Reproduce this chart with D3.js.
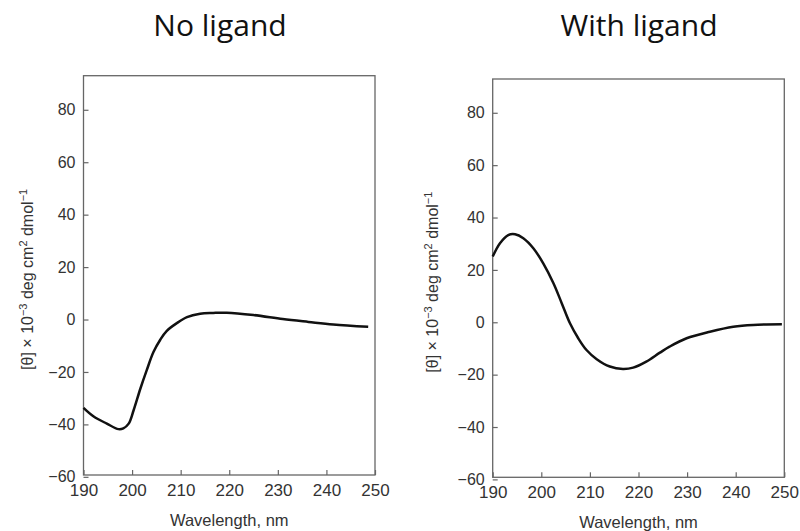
<!DOCTYPE html>
<html>
<head>
<meta charset="utf-8">
<script src="https://cdn.jsdelivr.net/npm/d3@7"></script>
<style>
  body { margin: 0; background: #fff; }
  svg { display: block; }
</style>
</head>
<body>
<script>
// CD spectra (wavelength in nm, [θ] x 10^-3)
const wavelengthNoLigand = [190, 192.1, 194.8, 197.2, 198.2, 199.3, 200.3, 201.7, 203, 204.4, 205.8, 207.1, 209.2, 211.3, 214, 216.7, 219.5, 225, 231, 236.3, 241.4, 248.6];
const thetaNoLigand = [-33.7, -37, -39.7, -41.8, -41.5, -39.7, -34.7, -26.4, -19.4, -12.4, -7.7, -4.4, -1.4, 0.9, 2.2, 2.5, 2.6, 1.7, 0.2, -0.9, -1.9, -2.8];

const wavelengthWithLigand = [190, 191.5, 193.2, 194.6, 196.3, 198.4, 200.4, 202.5, 204.2, 205.9, 207.6, 209.3, 211.4, 214.1, 216.8, 218.9, 221.6, 224.4, 226.4, 229.9, 234.7, 239.5, 243.6, 249.5];
const thetaWithLigand = [25.1, 30.2, 33.3, 33.6, 32.1, 28.2, 22.5, 14.9, 7.3, -0.4, -6.1, -10.6, -14.1, -16.9, -17.8, -17.3, -15, -11.6, -9.3, -6.1, -3.6, -1.7, -1, -0.8];

const titles = ["No ligand", "With ligand"];
const xTicks = [190, 200, 210, 220, 230, 240, 250];
const yTicks = [-60, -40, -20, 0, 20, 40, 60, 80];
const xLabel = "Wavelength, nm";

const width = 800, height = 531;

const svg = d3.select("body").append("svg")
  .attr("width", width)
  .attr("height", height);

// panel boxes
const panels = [
  { title: titles[0], xs: wavelengthNoLigand, ys: thetaNoLigand,
    left: 83.5, right: 375, top: 75.7, bottom: 475, yDomain: [-59.3, 93],
    titleX: 220, yLabelX: 33, xLabelY: 526 },
  { title: titles[1], xs: wavelengthWithLigand, ys: thetaWithLigand,
    left: 492.7, right: 784.3, top: 79, bottom: 477.3, yDomain: [-59.2, 92.9],
    titleX: 639, yLabelX: 438, xLabelY: 528 }
];

panels.forEach(p => {
  const x = d3.scaleLinear().domain([190, 250]).range([p.left, p.right]);
  const y = d3.scaleLinear().domain(p.yDomain).range([p.bottom, p.top]);

  // title
  svg.append("text")
    .attr("x", p.titleX)
    .attr("y", 36)
    .attr("text-anchor", "middle")
    .style("font-family", "'Open Sans', sans-serif")
    .style("font-size", "30px")
    .style("fill", "#111")
    .text(p.title);

  // axes with inward ticks
  const gx = svg.append("g")
    .attr("transform", `translate(0,${p.bottom})`)
    .call(d3.axisBottom(x).tickValues(xTicks).tickSize(-5).tickPadding(9).tickFormat(d3.format("d")));
  const gy = svg.append("g")
    .attr("transform", `translate(${p.left},0)`)
    .call(d3.axisLeft(y).tickValues(yTicks).tickSize(-5).tickPadding(8).tickFormat(d => d < 0 ? "\u2212" + Math.abs(d) : d));

  [gx, gy].forEach(g => {
    g.select(".domain").remove();
    g.selectAll(".tick line").attr("stroke", "#666").attr("stroke-width", 1.2);
    g.selectAll(".tick text")
      .style("font-family", "'Liberation Sans', Arial, sans-serif")
      .style("fill", "#333");
  });
  gx.selectAll(".tick text").style("font-size", "17px");
  gy.selectAll(".tick text").style("font-size", "16px");

  // frame
  svg.append("rect")
    .attr("x", p.left)
    .attr("y", p.top)
    .attr("width", p.right - p.left)
    .attr("height", p.bottom - p.top)
    .attr("fill", "none")
    .attr("stroke", "#666")
    .attr("stroke-width", 1.3);

  // curve
  const line = d3.line()
    .x((d, i) => x(p.xs[i]))
    .y(d => y(d))
    .curve(d3.curveCatmullRom.alpha(0.5));

  svg.append("path")
    .datum(p.ys)
    .attr("d", line)
    .attr("fill", "none")
    .attr("stroke", "#111")
    .attr("stroke-width", 2.5)
    .attr("stroke-linejoin", "round");

  // x label
  svg.append("text")
    .attr("x", (p.left + p.right) / 2)
    .attr("y", p.xLabelY)
    .attr("text-anchor", "middle")
    .style("font-family", "'Liberation Sans', Arial, sans-serif")
    .style("font-size", "16.5px")
    .style("fill", "#333")
    .text(xLabel);

  // y label with superscripts
  const yl = svg.append("text")
    .attr("transform", `translate(${p.yLabelX},${(p.top + p.bottom) / 2 + 4}) rotate(-90)`)
    .attr("text-anchor", "middle")
    .style("font-family", "'Liberation Sans', Arial, sans-serif")
    .style("font-size", "16px")
    .style("fill", "#333");
  yl.append("tspan").text("[\u03B8] \u00D7 10");
  yl.append("tspan").attr("dy", -6).style("font-size", "11px").text("\u22123");
  yl.append("tspan").attr("dy", 6).text(" deg cm");
  yl.append("tspan").attr("dy", -6).style("font-size", "11px").text("2");
  yl.append("tspan").attr("dy", 6).text(" dmol");
  yl.append("tspan").attr("dy", -6).style("font-size", "11px").text("\u22121");
});
</script>
</body>
</html>
